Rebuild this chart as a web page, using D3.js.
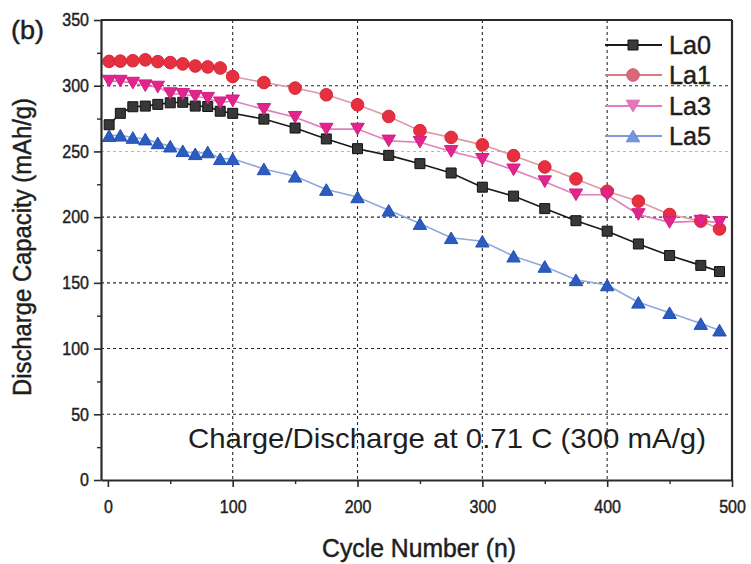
<!DOCTYPE html>
<html>
<head>
<meta charset="utf-8">
<script src="https://cdn.jsdelivr.net/npm/d3@7"></script>
<style>
  body { margin: 0; background: #fff; }
  svg { display: block; }
  text { font-family: "Liberation Sans", Arial, Helvetica, sans-serif; fill: #1e1e1e; }
  .heavy { stroke: #1e1e1e; stroke-width: 0.45px; }
</style>
</head>
<body>
<svg id="chart" width="751" height="564"></svg>
<script>
// Cycle numbers at which capacity was recorded
const cycles = [1, 10, 20, 30, 40, 50, 60, 70, 80, 90, 100, 125, 150, 175, 200, 225, 250, 275, 300, 325, 350, 375, 400, 425, 450, 475, 490];

// Discharge capacity (mAh/g) for each alloy
const la0 = [270.3, 279, 284, 284.5, 285.8, 287, 287.4, 284.5, 284.2, 280.6, 279, 274.6, 267.8, 259.5, 252.1, 247, 240.7, 233.6, 222.8, 216, 206.5, 197.3, 189.3, 179.6, 170.8, 163.3, 158.6];
const la1 = [318.5, 318.7, 319, 319.7, 318.3, 317.6, 316.6, 315, 314.3, 313.5, 307, 302.4, 298.2, 293.1, 285.5, 276.6, 265.8, 260.7, 255, 246.8, 238.2, 229.1, 219.7, 212.1, 202, 197, 191];
const la3 = [303.5, 303.5, 302, 300, 299, 294, 293.5, 292, 290.5, 287, 288.5, 282, 276, 267, 267, 258, 257, 250, 244, 236, 227, 217, 217, 202, 196, 197, 196];
const la5 = [262, 262.3, 260.6, 259.4, 256.5, 254, 250.5, 248.2, 249.6, 244.4, 244.4, 236.7, 231.1, 221, 215.4, 205.2, 195.1, 184.3, 181.7, 170.3, 162.5, 152.3, 148.4, 135.2, 127.3, 119, 114];

const seriesNames = ["La0", "La1", "La3", "La5"];
const xTicks = [0, 100, 200, 300, 400, 500];
const xMinorTicks = [50, 150, 250, 350, 450];
const yTicks = [0, 50, 100, 150, 200, 250, 300, 350];
const yMinorTicks = [25, 75, 125, 175, 225, 275, 325];
const xGrid = [100, 200, 300, 400];
const yGrid = [50, 100, 150, 200, 250, 300];

const svg = d3.select("#chart");

const x = d3.scaleLinear().domain([-5.5, 500]).range([101, 732]);
const y = d3.scaleLinear().domain([0, 350]).range([480, 20]);

// Triangles centred on their bounding box
const triUp = {
  draw(ctx, size) {
    const s = Math.sqrt(size), h = s * 0.866;
    ctx.moveTo(0, -h / 2); ctx.lineTo(s / 2, h / 2); ctx.lineTo(-s / 2, h / 2); ctx.closePath();
  }
};
const triDown = {
  draw(ctx, size) {
    const s = Math.sqrt(size), h = s * 0.866;
    ctx.moveTo(0, h / 2); ctx.lineTo(s / 2, -h / 2); ctx.lineTo(-s / 2, -h / 2); ctx.closePath();
  }
};

const series = [
  { name: seriesNames[0], values: la0, symbol: d3.symbolSquare, size: 100, fill: "#383838", stroke: "#111", line: "#1a1a1a",
    legFill: "#3a3a3a", legStroke: "#111", legLine: "#1a1a1a" },
  { name: seriesNames[1], values: la1, symbol: d3.symbolCircle, size: 125, fill: "#e6303f", stroke: "#d82636", line: "#dc9aa2",
    legFill: "#d9687a", legStroke: "#d05a6c", legLine: "#d97a88" },
  { name: seriesNames[2], values: la3, symbol: triDown, size: 180, fill: "#e0268c", stroke: "#d41c80", line: "#e07fc0",
    legFill: "#e476bc", legStroke: "#dc6ab4", legLine: "#e27cbe" },
  { name: seriesNames[3], values: la5, symbol: triUp, size: 180, fill: "#2c5cc0", stroke: "#2350b2", line: "#8fa8de",
    legFill: "#7595dc", legStroke: "#6a8ad4", legLine: "#7d9bdc" }
];

// Grid lines
const grid = svg.append("g").attr("class", "grid");
grid.selectAll("line.vx").data(xGrid).join("line")
  .attr("class", "vx")
  .attr("x1", d => x(d)).attr("x2", d => x(d))
  .attr("y1", y(350)).attr("y2", y(0))
  .attr("stroke", "#2a2a2a").attr("stroke-width", 1.1).attr("stroke-dasharray", "3,3");
grid.selectAll("line.hy").data(yGrid).join("line")
  .attr("class", "hy")
  .attr("x1", x(-5.5)).attr("x2", x(500))
  .attr("y1", d => y(d)).attr("y2", d => y(d))
  .attr("stroke", d => d === 250 ? "#b8b8b8" : "#2a2a2a")
  .attr("stroke-width", 1.1).attr("stroke-dasharray", "3,3");

// Series lines and markers
const lineGen = d3.line().x((d, i) => x(cycles[i])).y(d => y(d));
series.forEach(s => {
  svg.append("path")
    .datum(s.values)
    .attr("d", lineGen)
    .attr("fill", "none")
    .attr("stroke", s.line)
    .attr("stroke-width", 1.6);
});
series.forEach(s => {
  const sym = d3.symbol().type(s.symbol).size(s.size);
  svg.append("g").selectAll("path")
    .data(s.values)
    .join("path")
    .attr("transform", (d, i) => `translate(${x(cycles[i])},${y(d)})`)
    .attr("d", sym)
    .attr("fill", s.fill)
    .attr("stroke", s.stroke)
    .attr("stroke-width", 1);
});

// Axes
const xAxis = svg.append("g").attr("transform", `translate(0,${y(0)})`)
  .call(d3.axisBottom(x).tickValues(xTicks).tickSize(7).tickSizeOuter(0).tickPadding(13));
const yAxis = svg.append("g").attr("transform", `translate(${x(-5.5)},0)`)
  .call(d3.axisLeft(y).tickValues(yTicks).tickSize(7).tickSizeOuter(0).tickPadding(5));
[xAxis, yAxis].forEach(a => {
  a.select(".domain").attr("stroke", "#2a2a2a").attr("stroke-width", 2.2);
  a.selectAll(".tick line").attr("stroke", "#2a2a2a").attr("stroke-width", 1.6);
  a.selectAll(".tick text")
    .attr("class", "heavy")
    .attr("fill", "#1e1e1e")
    .style("font-size", "18px")
    .style("font-family", "'Liberation Sans', Arial, sans-serif")
    .attr("textLength", function () { return this.textContent.length * 8.9; })
    .attr("lengthAdjust", "spacingAndGlyphs");
});
svg.append("g").attr("transform", `translate(0,${y(0)})`)
  .call(d3.axisBottom(x).tickValues(xMinorTicks).tickSize(4).tickFormat(""))
  .call(g => { g.select(".domain").remove(); g.selectAll("line").attr("stroke", "#2a2a2a").attr("stroke-width", 1.4); });
svg.append("g").attr("transform", `translate(${x(-5.5)},0)`)
  .call(d3.axisLeft(y).tickValues(yMinorTicks).tickSize(4).tickFormat(""))
  .call(g => { g.select(".domain").remove(); g.selectAll("line").attr("stroke", "#2a2a2a").attr("stroke-width", 1.4); });

// Top and right frame
svg.append("line").attr("x1", x(-5.5)).attr("x2", x(500)).attr("y1", y(350)).attr("y2", y(350))
  .attr("stroke", "#2a2a2a").attr("stroke-width", 2.2);
svg.append("line").attr("x1", x(500)).attr("x2", x(500)).attr("y1", y(350)).attr("y2", y(0))
  .attr("stroke", "#2a2a2a").attr("stroke-width", 2.2);

// Titles and annotation
svg.append("text").attr("class", "heavy").attr("x", 419).attr("y", 557).attr("text-anchor", "middle")
  .style("font-size", "25px").attr("textLength", 194).attr("lengthAdjust", "spacingAndGlyphs")
  .text("Cycle Number (n)");
svg.append("text").attr("class", "heavy").attr("transform", "translate(31,247) rotate(-90)").attr("text-anchor", "middle")
  .style("font-size", "25px").attr("textLength", 298).attr("lengthAdjust", "spacingAndGlyphs")
  .text("Discharge Capacity (mAh/g)");
svg.append("text").attr("class", "heavy").attr("x", 11).attr("y", 39)
  .style("font-size", "26px").attr("textLength", 33).attr("lengthAdjust", "spacingAndGlyphs")
  .text("(b)");
svg.append("text").attr("x", 188).attr("y", 448)
  .style("font-size", "28px").attr("fill", "#2a2a2a")
  .attr("textLength", 518).attr("lengthAdjust", "spacingAndGlyphs")
  .text("Charge/Discharge at 0.71 C (300 mA/g)");

// Legend
const legendRows = [45, 75, 106, 136];
const legend = svg.append("g").attr("class", "legend");
series.forEach((s, i) => {
  const g = legend.append("g").attr("transform", `translate(0,${legendRows[i]})`);
  g.append("line").attr("x1", 605).attr("x2", 662).attr("y1", 0).attr("y2", 0)
    .attr("stroke", s.legLine).attr("stroke-width", 1.8);
  g.append("path").attr("transform", "translate(633,0)")
    .attr("d", d3.symbol().type(s.symbol).size(s.size))
    .attr("fill", s.legFill).attr("stroke", s.legStroke).attr("stroke-width", 1);
  g.append("text").attr("class", "heavy").attr("x", 669).attr("y", 9)
    .style("font-size", "25px").attr("textLength", 42).attr("lengthAdjust", "spacingAndGlyphs")
    .text(s.name);
});
</script>
</body>
</html>
